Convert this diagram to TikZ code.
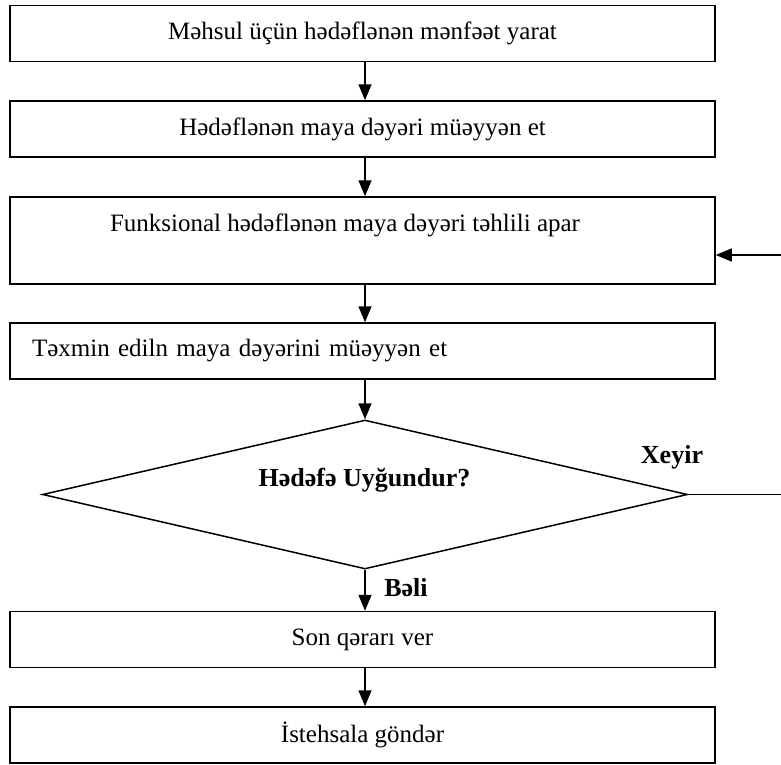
\documentclass[tikz,border=0pt]{standalone}
\usepackage{fontspec}
\setmainfont{Liberation Serif}
\usepackage{tikz}
\usetikzlibrary{arrows.meta, positioning, calc, shapes.geometric}

\begin{document}
\begin{tikzpicture}[x=1pt, y=-1pt,
  box/.style={draw, line width=1.5pt, minimum width=705pt, minimum height=56pt, inner sep=0pt, align=center, font=\fontsize{25}{29}\selectfont},
  dec/.style={draw, diamond, line width=1.5pt, minimum width=645pt, minimum height=149pt, inner sep=0pt},
  lbl/.style={font=\fontsize{26}{30}\selectfont\bfseries},
  arr/.style={line width=1.5pt, -{Triangle[length=16pt, width=13pt]}}
]
\useasboundingbox (0,0) rectangle (781,764);
\node[box] (s1) at (362.5,33.5) {Məhsul üçün hədəflənən mənfəət yarat};
\node[box] (s2) at (362.5,129) {Hədəflənən maya dəyəri müəyyən et};
\node[box, minimum height=87pt] (s3) at (362.5,240.5) {};
\node[font=\fontsize{25}{29}\selectfont] (s3t) at (345,225) {Funksional hədəflənən maya dəyəri təhlili apar};
\node[box, text width=661pt, inner xsep=22pt, align=left] (s4) at (362.5,351) {Təxmin ediln maya dəyərini müəyyən et};
\node[dec] (d) at (365,494.5) {};
\node[lbl] (dt) at (364.5,480) {Hədəfə Uyğundur?};
\node[box] (s5) at (362.5,639.5) {Son qərarı ver};
\node[box] (s6) at (362.5,735) {İstehsala göndər};
% arrows down the middle
\draw[arr] (s1.south -| d.north) -- (s2.north -| d.north);
\draw[arr] (s2.south -| d.north) -- (s3.north -| d.north);
\draw[arr] (s3.south -| d.north) -- (s4.north -| d.north);
\draw[arr] (s4.south -| d.north) -- (d.north);
\draw[arr] (d.south) -- (s5.north -| d.south);
\draw[arr] (s5.south -| d.south) -- (s6.north -| d.south);
% no branch
\coordinate (out) at (781,494.5);
\coordinate (back) at (781,255);
\draw[line width=1.5pt] (d.east) -- (out);
\draw[arr] (back) -- (back -| s3.east);
\node[lbl] (no) at (672,457) {Xeyir};
\node[lbl] (yes) at (406,588) {Bəli};
\end{tikzpicture}
\end{document}
